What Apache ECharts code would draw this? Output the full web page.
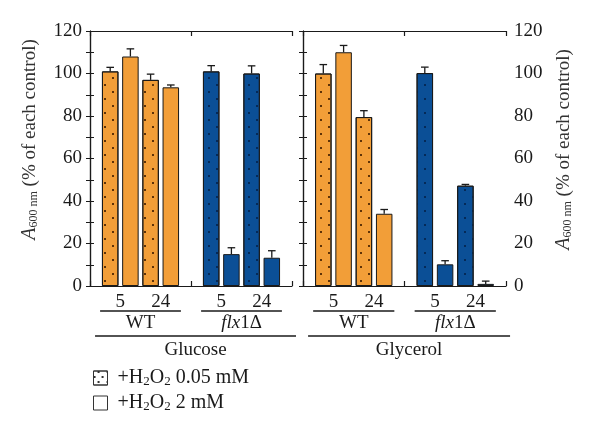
<!DOCTYPE html>
<html><head><meta charset="utf-8">
<script src="https://cdn.jsdelivr.net/npm/echarts@6/dist/echarts.min.js"></script>
<style>html,body{margin:0;padding:0;background:#fff}#c{width:600px;height:436px}</style>
</head><body><div id="c"></div>
<script>
// ---- data ----
const media = ['Glucose', 'Glycerol'];
const strains = ['WT', 'flx1Δ'];
const times = ['5', '24'];
const doses = ['0.05 mM', '2 mM'];
// order within each medium: WT 5 (0.05,2), WT 24 (0.05,2), flx1Δ 5 (0.05,2), flx1Δ 24 (0.05,2)
const glucoseMean  = [101, 108, 97, 93.5, 101, 15, 100, 13.3];
const glucoseErr   = [1.9, 3.6, 2.7, 1.1, 2.7, 3.0, 3.6, 3.3];
const glycerolMean = [100, 110, 79.5, 34, 100.2, 10.2, 47.2, 1.0];
const glycerolErr  = [4.2, 3.2, 3.0, 2.0, 2.8, 1.7, 0.6, 1.3];
const yTicks = [0, 20, 40, 60, 80, 100, 120];

// ---- styling ----
const FONT = '"Liberation Serif", "Times New Roman", serif';
const INK = '#1a1a1a';
const strainColors = ['#F29E38', '#0B4F96'];
const dotColors = ['#5e3208', '#052a58'];
const means = [glucoseMean, glycerolMean];
const errs = [glucoseErr, glycerolErr];

function slotOf(k) { const s = Math.floor(k / 4), t = Math.floor(k / 2) % 2, d = k % 2; return { s, t, d, x: s * 5 + t * 2 + d + 1 }; }
function decal(c) { return { symbol: 'rect', symbolSize: 1, color: c, dashArrayX: [[1.4, 13.4], [0, 7.4, 1.4, 6]], dashArrayY: [1.4, 4.1] }; }

const labelMap = {};
strains.forEach((_, s) => times.forEach((tm, t) => { labelMap[s * 5 + t * 2 + 1.5] = tm; }));

const grids = [
  { left: 90, top: 31, width: 202, height: 255 },
  { left: 303, top: 31, width: 203, height: 255 }
];
const xAxes = [], yAxes = [], series = [];
media.forEach((m, gi) => {
  xAxes.push({ gridIndex: gi, type: 'value', min: 0, max: 10, interval: 0.5, position: 'bottom',
    axisLine: { show: true, lineStyle: { color: INK, width: 1.2 } }, axisTick: { show: false }, splitLine: { show: false },
    axisLabel: { margin: 7, fontFamily: FONT, fontSize: 19, color: INK, formatter: v => labelMap[v] || '', showMinLabel: true, showMaxLabel: true } });
  xAxes.push({ gridIndex: gi, type: 'value', min: 0, max: 10, interval: 5, position: 'bottom',
    axisLine: { show: false }, axisTick: { show: true, inside: true, length: 5, lineStyle: { color: INK, width: 1.2 } },
    axisLabel: { show: false }, splitLine: { show: false } });
  xAxes.push({ gridIndex: gi, type: 'value', min: 0, max: 10, interval: 5, position: 'top',
    axisLine: { show: true, lineStyle: { color: INK, width: 1.2 } }, axisTick: { show: true, inside: true, length: 5, lineStyle: { color: INK, width: 1.2 } },
    axisLabel: { show: false }, splitLine: { show: false } });
  ['left', 'right'].forEach(pos => {
    const outer = (gi === 0 && pos === 'left') || (gi === 1 && pos === 'right');
    yAxes.push({ gridIndex: gi, type: 'value', position: pos, min: yTicks[0], max: yTicks[yTicks.length - 1], interval: yTicks[1] - yTicks[0],
      axisLine: { show: true, lineStyle: { color: INK, width: 1.2 } },
      axisTick: { show: true, inside: true, length: 4, lineStyle: { color: INK, width: 1 } },
      minorTick: { show: true, splitNumber: 2, length: 4, lineStyle: { color: INK, width: 1 } },
      splitLine: { show: false },
      axisLabel: { show: outer, margin: 8, fontFamily: FONT, fontSize: 19, color: INK },
      name: outer ? '{a|A}{s|600 nm} (% of each control)' : '',
      nameLocation: 'middle', nameRotate: 90, nameGap: gi === 0 ? 50 : 48,
      nameTextStyle: { fontFamily: FONT, fontSize: 19, color: '#333', padding: gi === 0 ? [0, 0, 0, 38] : [0, 0, 0, 18],
        rich: { a: { fontFamily: FONT, fontSize: 20, fontStyle: 'italic', color: '#333' },
                s: { fontFamily: FONT, fontSize: 12, color: '#333', padding: [7, 0, 0, 0] } } }
    });
  });
  doses.forEach((dn, d) => {
    const data = [];
    means[gi].forEach((v, k) => {
      const sl = slotOf(k);
      if (sl.d !== d) return;
      const it = { value: [sl.x, v], itemStyle: { color: strainColors[sl.s], borderColor: INK, borderWidth: 1 } };
      if (d === 0) it.itemStyle.decal = decal(dotColors[sl.s]);
      data.push(it);
    });
    const sStyle = { color: '#fff', borderColor: INK, borderWidth: 1 };
    if (d === 0) sStyle.decal = { symbol: 'rect', symbolSize: 1, color: '#333', dashArrayX: [[1.4, 6], [0, 3.7, 1.4, 2.3]], dashArrayY: [1.4, 2.2] };
    series.push({ type: 'bar', name: dn, xAxisIndex: gi * 3, yAxisIndex: gi * 2, barWidth: 16.5, barGap: '-100%',
      itemStyle: sStyle, data, silent: true });
  });
  series.push({ type: 'custom', xAxisIndex: gi * 3, yAxisIndex: gi * 2, silent: true, z: 5,
    data: means[gi].map((v, k) => [slotOf(k).x, v, errs[gi][k]]),
    renderItem: (params, api) => {
      const x = api.value(0), y = api.value(1), e = api.value(2);
      const p0 = api.coord([x, y]), p1 = api.coord([x, y + e]);
      const st = { stroke: INK, lineWidth: 1.3 };
      return { type: 'group', children: [
        { type: 'line', shape: { x1: p0[0], y1: p0[1], x2: p1[0], y2: p1[1] }, style: st },
        { type: 'line', shape: { x1: p1[0] - 3.8, y1: p1[1], x2: p1[0] + 3.8, y2: p1[1] }, style: st }
      ] };
    } });
});

const chart = echarts.init(document.getElementById('c'), null, { renderer: 'canvas' });
chart.setOption({
  animation: false,
  backgroundColor: '#fff',
  grid: grids,
  xAxis: xAxes,
  yAxis: yAxes,
  legend: {
    left: 88, top: 363, orient: 'vertical', icon: 'rect', itemWidth: 14, itemHeight: 14, itemGap: 5, selectedMode: false,
    itemStyle: { borderWidth: 1, borderColor: '#333' },
    data: doses,
    formatter: n => '+H{s|2}O{s|2} ' + n,
    textStyle: { fontFamily: FONT, fontSize: 20, color: INK, lineHeight: 20, padding: [0, 0, 0, 5],
      rich: { s: { fontFamily: FONT, fontSize: 13, color: INK, padding: [7, 0, 0, 0] } } }
  },
  series
});

// group labels under each panel
const graphic = [];
media.forEach((m, gi) => {
  const px = v => chart.convertToPixel({ xAxisIndex: gi * 3 }, v);
  const base = chart.convertToPixel({ yAxisIndex: gi * 2 }, 0);
  const lineSt = { stroke: INK, lineWidth: 1.3 };
  strains.forEach((sn, s) => {
    const a = px(s * 5 + 0.5), b = px(s * 5 + 4.5);
    graphic.push({ type: 'line', shape: { x1: a, y1: base + 25, x2: b, y2: base + 25 }, style: lineSt, silent: true });
    const txt = sn === 'flx1Δ' ? '{i|flx}1Δ' : sn;
    graphic.push({ type: 'text', x: (a + b) / 2, y: base + 37, silent: true,
      style: { text: txt, fontFamily: FONT, fontSize: 19, fill: INK, align: 'center', verticalAlign: 'middle',
        rich: { i: { fontFamily: FONT, fontSize: 19, fontStyle: 'italic', fill: INK } } } });
  });
  const a = px(0.25), b = px(10.2);
  graphic.push({ type: 'line', shape: { x1: a, y1: base + 50, x2: b, y2: base + 50 }, style: lineSt, silent: true });
  graphic.push({ type: 'text', x: (a + b) / 2, y: base + 64, silent: true,
    style: { text: m, fontFamily: FONT, fontSize: 19, fill: INK, align: 'center', verticalAlign: 'middle' } });
});
chart.setOption({ graphic });
</script>
</body></html>
